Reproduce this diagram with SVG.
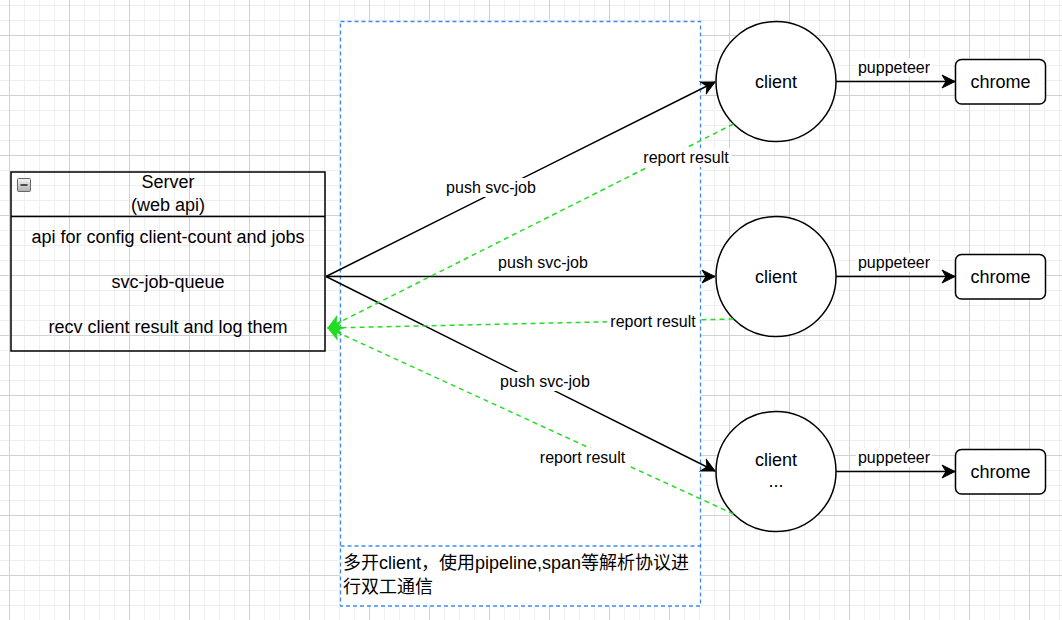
<svg xmlns="http://www.w3.org/2000/svg" width="1062" height="620" viewBox="0 0 1062 620">
  <style>
    .t { font-family: "Liberation Sans", Arial, "Noto Sans CJK SC", sans-serif; fill: #000; }
    .t16 { font-size: 16px; }
    .t18 { font-size: 18px; }
    .mid { text-anchor: middle; }
    .shape { stroke: #000; stroke-width: 1.5; }
    .edge { fill: none; stroke: #000; stroke-width: 1.5; }
    .ret { fill: none; stroke: #22dd22; stroke-width: 1.5; stroke-dasharray: 5 4; }
    .lbg { fill: #fff; }
    .cont { fill: #fff; stroke: #3d8af7; stroke-width: 1.3; stroke-dasharray: 4 3; }
  </style>
  <defs>
    <pattern id="grid" x="9" y="35" width="60" height="60" patternUnits="userSpaceOnUse">
      <rect width="60" height="60" fill="#fff"/>
      <path d="M15.5 0V60M30.5 0V60M45.5 0V60M0 15.5H60M0 30.5H60M0 45.5H60" stroke="#efefef" stroke-width="1" fill="none"/>
      <path d="M0.5 0V60M0 0.5H60" stroke="#d2d2d2" stroke-width="1" fill="none"/>
    </pattern>
    <marker id="ab" viewBox="-14 -8 16 16" markerWidth="16" markerHeight="16" refX="0" refY="0" orient="auto" markerUnits="userSpaceOnUse">
      <path d="M0,0 L-13,-6.5 L-9,0 L-13,6.5 Z" fill="#000" stroke="#000" stroke-width="1"/>
    </marker>
    <marker id="ag" viewBox="-14 -8 16 16" markerWidth="16" markerHeight="16" refX="0" refY="0" orient="auto" markerUnits="userSpaceOnUse">
      <path d="M0,0 L-13,-6.5 L-9,0 L-13,6.5 Z" fill="#22dd22" stroke="#22dd22" stroke-width="1"/>
    </marker>
    <linearGradient id="cg" x1="0" y1="0" x2="0" y2="1">
      <stop offset="0" stop-color="#f4f4f4"/>
      <stop offset="1" stop-color="#b0b0b0"/>
    </linearGradient>
  </defs>

  <rect width="1062" height="620" fill="url(#grid)"/>

  <g id="container">
    <rect class="cont" x="340.5" y="21.5" width="360" height="584.5"/>
    <line class="cont" x1="340.5" y1="546" x2="700.5" y2="546"/>
    <text class="t t18" x="343" y="569">多开client，使用pipeline,span等解析协议进</text>
    <text class="t t18" x="343" y="593">行双工通信</text>
  </g>

  <g id="server">
    <rect class="shape" x="11" y="172" width="314" height="179" fill="none"/>
    <line class="shape" x1="11" y1="216.5" x2="325" y2="216.5"/>
    <rect x="17.5" y="178.5" width="13" height="13" rx="1" fill="url(#cg)" stroke="#666" stroke-width="1"/>
    <line x1="20.5" y1="185" x2="27.5" y2="185" stroke="#222" stroke-width="1.5"/>
    <text class="t t18 mid" x="168" y="188">Server</text>
    <text class="t t18 mid" x="168" y="211">(web api)</text>
    <text class="t t18 mid" x="168" y="243">api for config client-count and jobs</text>
    <text class="t t18 mid" x="168" y="288">svc-job-queue</text>
    <text class="t t18 mid" x="168" y="333">recv client result and log them</text>
  </g>

  <g id="client1">
    <circle class="shape" cx="776" cy="81.5" r="60" fill="#fff"/>
    <text class="t t18 mid" x="776" y="87.5">client</text>
  </g>
  <g id="client2">
    <circle class="shape" cx="776" cy="276.5" r="60" fill="#fff"/>
    <text class="t t18 mid" x="776" y="282.5">client</text>
  </g>
  <g id="client3">
    <circle class="shape" cx="776" cy="471.5" r="60" fill="#fff"/>
    <text class="t t18 mid" x="776" y="466">client</text>
    <text class="t t18 mid" x="776" y="487">...</text>
  </g>

  <g id="chrome1">
    <rect class="shape" x="955.5" y="59.5" width="90" height="44.5" rx="6" fill="#fff"/>
    <text class="t t18 mid" x="1000.5" y="87.5">chrome</text>
  </g>
  <g id="chrome2">
    <rect class="shape" x="955.5" y="254.5" width="90" height="44.5" rx="6" fill="#fff"/>
    <text class="t t18 mid" x="1000.5" y="282.5">chrome</text>
  </g>
  <g id="chrome3">
    <rect class="shape" x="955.5" y="449.5" width="90" height="44.5" rx="6" fill="#fff"/>
    <text class="t t18 mid" x="1000.5" y="477.5">chrome</text>
  </g>

  <g id="connectors">
    <line class="edge" x1="326" y1="276.5" x2="715" y2="82" marker-end="url(#ab)"/>
    <line class="edge" x1="326" y1="276.5" x2="715" y2="276.5" marker-end="url(#ab)"/>
    <line class="edge" x1="326" y1="276.5" x2="715" y2="471" marker-end="url(#ab)"/>
    <line class="ret" x1="733.5" y1="124" x2="328" y2="328" marker-end="url(#ag)"/>
    <line class="ret" x1="733.5" y1="319" x2="328" y2="328" marker-end="url(#ag)"/>
    <line class="ret" x1="733.5" y1="514" x2="328" y2="328" marker-end="url(#ag)"/>
    <line class="edge" x1="836" y1="81.5" x2="955" y2="81.5" marker-end="url(#ab)"/>
    <line class="edge" x1="836" y1="276.5" x2="955" y2="276.5" marker-end="url(#ab)"/>
    <line class="edge" x1="836" y1="471.5" x2="955" y2="471.5" marker-end="url(#ab)"/>

    <rect class="lbg" x="444" y="178" width="94" height="19"/>
    <text class="t t16 mid" x="491" y="193">push svc-job</text>
    <rect class="lbg" x="496" y="253" width="94" height="19"/>
    <text class="t t16 mid" x="543" y="268">push svc-job</text>
    <rect class="lbg" x="498" y="372" width="94" height="19"/>
    <text class="t t16 mid" x="545" y="387">push svc-job</text>

    <rect class="lbg" x="640" y="148" width="92" height="19"/>
    <text class="t t16 mid" x="686" y="163">report result</text>
    <rect class="lbg" x="607" y="312" width="92" height="19"/>
    <text class="t t16 mid" x="653" y="327">report result</text>
    <rect class="lbg" x="536" y="448" width="93" height="19"/>
    <text class="t t16 mid" x="582.5" y="463">report result</text>

    <rect class="lbg" x="856" y="58" width="76" height="19"/>
    <text class="t t16 mid" x="894" y="73">puppeteer</text>
    <rect class="lbg" x="856" y="253" width="76" height="19"/>
    <text class="t t16 mid" x="894" y="268">puppeteer</text>
    <rect class="lbg" x="856" y="448" width="76" height="19"/>
    <text class="t t16 mid" x="894" y="463">puppeteer</text>
  </g>
</svg>
